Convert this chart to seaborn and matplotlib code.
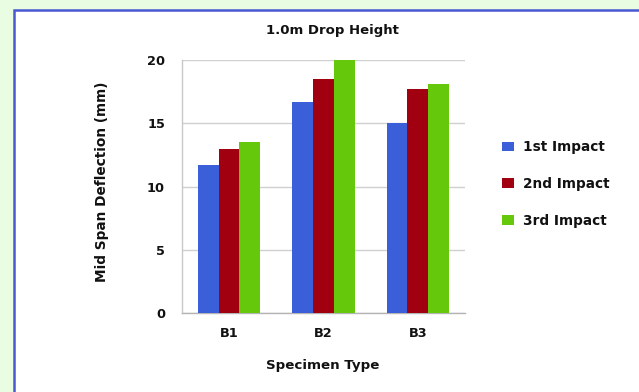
import matplotlib
matplotlib.use("Agg")
import matplotlib.pyplot as plt
from matplotlib.patches import Rectangle
import pandas as pd
import seaborn as sns

# Data
specimens = ["B1", "B2", "B3"]
impacts = ["1st Impact", "2nd Impact", "3rd Impact"]
first_impact = [11.7, 16.7, 15.0]
second_impact = [13.0, 18.5, 17.7]
third_impact = [13.5, 20.0, 18.1]
y_ticks = [0, 5, 10, 15, 20]

colors = ["#3a5fd8", "#a00010", "#66c80a"]

df = pd.DataFrame({
    "Specimen": specimens * 3,
    "Impact": [impacts[0]] * 3 + [impacts[1]] * 3 + [impacts[2]] * 3,
    "Deflection": first_impact + second_impact + third_impact,
})

sns.set_style("white")
plt.rcParams["font.family"] = ["DejaVu Sans"]
plt.rcParams["font.weight"] = "bold"
plt.rcParams["text.color"] = "#111111"
plt.rcParams["xtick.labelcolor"] = "#111111"
plt.rcParams["ytick.labelcolor"] = "#111111"
plt.rcParams["axes.labelcolor"] = "#111111"

W, H = 639, 392
fig = plt.figure(figsize=(W / 100, H / 100), dpi=100)
fig.patch.set_facecolor("#e8fde2")

# white panel with blue frame, behind the axes
fig.patches.append(Rectangle((13.5 / W, -0.05), 1.0, (H - 9.5) / H + 0.05,
                             transform=fig.transFigure, facecolor="white",
                             edgecolor="#4a58d2", linewidth=1.8, zorder=-5))

ax_l, ax_r, ax_t, ax_b = 181.7, 465.0, 60.0, 313.3
ax = fig.add_axes([ax_l / W, 1 - ax_b / H, (ax_r - ax_l) / W, (ax_b - ax_t) / H])
ax.set_facecolor("none")
ax.set_zorder(1)

sns.barplot(data=df, x="Specimen", y="Deflection", hue="Impact",
            order=specimens, hue_order=impacts, palette=colors,
            width=0.66, gap=0, linewidth=0, saturation=1, ax=ax, zorder=3)

ax.set_ylim(0, 20)
ax.set_xlim(-0.5, 2.5)
ax.set_yticks(y_ticks)
ax.yaxis.grid(True, color="#d0d0d0", linewidth=1.0, zorder=0)
ax.set_axisbelow(True)
for s in ["top", "right"]:
    ax.spines[s].set_visible(False)
ax.spines["left"].set_color("#c8c8c8")
ax.spines["bottom"].set_color("#b4b4b4")
ax.spines["left"].set_linewidth(1.0)
ax.spines["bottom"].set_linewidth(1.0)

ax.tick_params(axis="y", length=4, width=1, color="#c8c8c8", pad=8,
               labelsize=9.3)
ax.tick_params(axis="x", length=0, pad=10, labelsize=9.3)
for lab in ax.get_xticklabels() + ax.get_yticklabels():
    lab.set_fontweight("bold")

ax.set_xlabel("Specimen Type", fontsize=9.6, fontweight="bold")
ax.set_ylabel("Mid Span Deflection (mm)", fontsize=9.8, fontweight="bold")
ax.xaxis.label.set_va("center")
ax.yaxis.label.set_va("center")
ax.xaxis.set_label_coords((323 - ax_l) / (ax_r - ax_l), -(365 - ax_b) / (ax_b - ax_t))
ax.yaxis.set_label_coords(-(ax_l - 102) / (ax_r - ax_l), (ax_b - 182) / (ax_b - ax_t))

ax.set_title("1.0m Drop Height", fontsize=9.5, fontweight="bold", va="center",
             y=(ax_b - 30.5) / (ax_b - ax_t), pad=0)
ax.title.set_x((332 - ax_l) / (ax_r - ax_l))

handles, labels = ax.get_legend_handles_labels()
if ax.legend_:
    ax.legend_.remove()
fig.legend(handles, labels, loc="center left",
           bbox_to_anchor=(502 / W, 1 - 184 / H), frameon=False,
           prop={"size": 9.8, "weight": "bold"}, borderpad=0,
           borderaxespad=0, handlelength=0.85, handleheight=0.7,
           handletextpad=0.7, labelspacing=1.68)

fig.savefig("out.png", dpi=100, facecolor=fig.get_facecolor())
